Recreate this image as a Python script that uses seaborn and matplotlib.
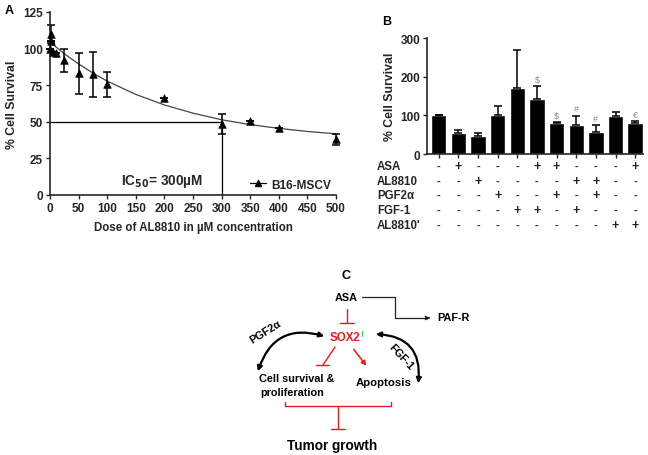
import numpy as np
import matplotlib
matplotlib.use("Agg")
import matplotlib.pyplot as plt
import seaborn as sns
from matplotlib.lines import Line2D
from matplotlib.patches import FancyArrowPatch

# ---- data: panel A (dose response) ----
dose = [0, 1, 2, 5, 10, 25, 50, 75, 100, 200, 300, 350, 400, 500]
survival = [100, 110, 105, 98, 97, 92, 83, 82.5, 75.5, 66.5, 48.5, 50.5, 46, 38]
survival_err = [0, 6, 0, 0, 0, 8, 14, 15.5, 8.5, 0, 6.5, 0, 0, 4]
fit_dose = [0, 25, 50, 75, 100, 150, 200, 250, 300, 350, 400, 450, 500]
fit_val = [104.5, 96.5, 89.5, 83.3, 77.8, 68.7, 61.5, 55.9, 51.4, 48.1, 45.5, 43.4, 41.8]
ic50 = 300

# ---- data: panel B (bar chart) ----
bar_val = [100, 55, 47.5, 102, 170, 141, 79.5, 76, 58, 99.5, 79.5]
bar_err = [0, 7, 7, 22, 100, 34, 3.5, 23, 16, 9, 6]
bar_mark = ["", "", "", "", "", "$", "$", "#", "#", "", "€"]
row_labels = ["ASA", "AL8810", "PGF2α", "FGF-1", "AL8810'"]
row_signs = [
    "-+---++---+",
    "--+----++--",
    "---+--+-+--",
    "----++-+---",
    "---------++",
]

sns.set_theme(style="ticks")
plt.rcParams["font.family"] = ["Liberation Sans", "DejaVu Sans"]
plt.rcParams["font.weight"] = "bold"
plt.rcParams["axes.labelweight"] = "bold"

fig = plt.figure(figsize=(6.48, 4.56), dpi=100)

# ---------- panel A ----------
axA = fig.add_axes([50 / 648, 1 - 196 / 456, 286 / 648, 183 / 456])
sns.lineplot(x=fit_dose, y=fit_val, ax=axA, color="#444444", linewidth=0.9)
axA.errorbar(dose, survival, yerr=survival_err, fmt="none", ecolor="black",
             elinewidth=1.1, capsize=3, capthick=1.1, clip_on=False)
sns.scatterplot(x=dose, y=survival, ax=axA, marker="^", color="black",
                s=30, edgecolor="black", clip_on=False, zorder=5)
axA.plot([0, ic50], [50, 50], color="black", lw=0.9)
axA.plot([ic50, ic50], [0, 50], color="black", lw=0.9)
axA.set_xlim(0, 500)
axA.set_ylim(0, 125)
axA.set_xticks(range(0, 501, 50))
axA.set_yticks(range(0, 126, 25))
axA.set_xlabel("Dose of AL8810 in µM concentration", fontsize=8.3, labelpad=5)
axA.set_ylabel("% Cell Survival", fontsize=8.8, labelpad=4)
axA.tick_params(labelsize=8.5, length=3, width=1, pad=2)
for lab in axA.get_xticklabels() + axA.get_yticklabels():
    lab.set_fontweight("bold")
sns.despine(ax=axA)
for sp in ["left", "bottom"]:
    axA.spines[sp].set_linewidth(1.2)
axA.text(124, 10, "IC$_{50}$= 300µM", fontsize=9.8, fontweight="bold", va="center")
h = Line2D([], [], color="black", marker="^", markersize=4.5, lw=0.9)
axA.legend([h], ["B16-MSCV"], loc="lower right", bbox_to_anchor=(1.02, -0.035),
           frameon=False, handlelength=1.4, handletextpad=0.4,
           prop={"weight": "bold", "size": 8.6})

# ---------- panel B ----------
axB = fig.add_axes([427 / 648, 1 - 155 / 456, 216 / 648, 116 / 456])
xs = list(range(len(bar_val)))
sns.barplot(x=xs, y=bar_val, ax=axB, color="black", width=0.78,
            errorbar=None, native_scale=True, saturation=1)
axB.errorbar(xs, bar_val, yerr=[[0] * len(bar_err), bar_err], fmt="none",
             ecolor="black", elinewidth=1.1, capsize=3, capthick=1.1)
for x, v, e, m in zip(xs, bar_val, bar_err, bar_mark):
    if m:
        axB.text(x, v + e + 6, m, ha="center", va="bottom", fontsize=6.5,
                 color="#888888", fontweight="normal")
axB.set_xlim(-0.6, 10.4)
axB.set_ylim(0, 300)
axB.set_yticks([0, 100, 200, 300])
axB.set_xticks(xs)
axB.set_xticklabels([])
axB.set_ylabel("% Cell Survival", fontsize=8.8, labelpad=3)
axB.tick_params(labelsize=8.5, length=3, width=1, pad=2)
for lab in axB.get_yticklabels():
    lab.set_fontweight("bold")
sns.despine(ax=axB)
for sp in ["left", "bottom"]:
    axB.spines[sp].set_linewidth(1.2)
trans = matplotlib.transforms.blended_transform_factory(axB.transData, axB.transAxes)
row_y = [-0.103, -0.233, -0.353, -0.483, -0.612]
for lab, signs, ry in zip(row_labels, row_signs, row_y):
    axB.text(-3.15, ry, lab, transform=trans, ha="left", va="center",
             fontsize=8.3, fontweight="bold", clip_on=False)
    for x, s in zip(xs, signs):
        axB.text(x, ry, s, transform=trans, ha="center", va="center",
                 fontsize=9 if s == "+" else 8, fontweight="bold", clip_on=False)

# ---------- panel C (schematic) ----------
axC = fig.add_axes([0, 0, 1, 1])
axC.set_xlim(0, 648)
axC.set_ylim(456, 0)
axC.axis("off")
red = "#e8191f"

def bold(x, y, s, size=7.8, color="black", **kw):
    axC.text(x, y, s, fontsize=size, fontweight="bold", color=color,
             ha=kw.pop("ha", "center"), va=kw.pop("va", "center"), **kw)

bold(346, 298, "ASA")
axC.plot([362, 395, 395, 428], [298, 298, 319, 319], color="#222222", lw=0.9)
axC.annotate("", xy=(433, 319), xytext=(426, 319),
             arrowprops=dict(arrowstyle="-|>", color="#222222", lw=0.9,
                             mutation_scale=6))
bold(453, 318, "PAF-R")

# ASA -| SOX2
axC.plot([347, 347], [310, 324], color=red, lw=1)
axC.plot([340, 354], [324, 324], color=red, lw=1)
bold(345, 338, "SOX2", size=8.3, color=red)
axC.plot([362, 362], [332, 337], color="#33cc66", lw=0.8)

# SOX2 -| cell survival, SOX2 -> apoptosis
axC.plot([335, 323], [348, 366], color=red, lw=1)
axC.plot([316, 329], [366, 366], color=red, lw=1)
axC.annotate("", xy=(368, 369), xytext=(352, 348),
             arrowprops=dict(arrowstyle="-|>", color=red, lw=1.1,
                             mutation_scale=7))

bold(297, 379, "Cell survival &")
bold(292, 393, "proliferation")
bold(384, 383, "Apoptosis", size=8.2)

# curved feedback arrows
arcL = FancyArrowPatch((257, 375), (327, 338), connectionstyle="arc3,rad=-0.5",
                       arrowstyle="<|-|>", mutation_scale=7, lw=1.6, color="black")
axC.add_patch(arcL)
arcR = FancyArrowPatch((373, 335), (418, 387), connectionstyle="arc3,rad=-0.55",
                       arrowstyle="<|-|>", mutation_scale=7, lw=1.6, color="black")
axC.add_patch(arcR)
bold(265, 332, "PGF2α", rotation=32)
bold(401, 357, "FGF-1", rotation=-47)

# bracket -| tumor growth
axC.plot([285, 285, 391, 391], [403, 407, 407, 403], color=red, lw=1)
axC.plot([338, 338], [407, 430], color=red, lw=1)
axC.plot([331, 345], [430, 430], color=red, lw=1)
bold(332, 446, "Tumor growth", size=9.8)

# panel letters
bold(9, 11, "A", size=9)
bold(387, 22, "B", size=9)
bold(346, 276, "C", size=9)

fig.savefig("out.png", dpi=100)
